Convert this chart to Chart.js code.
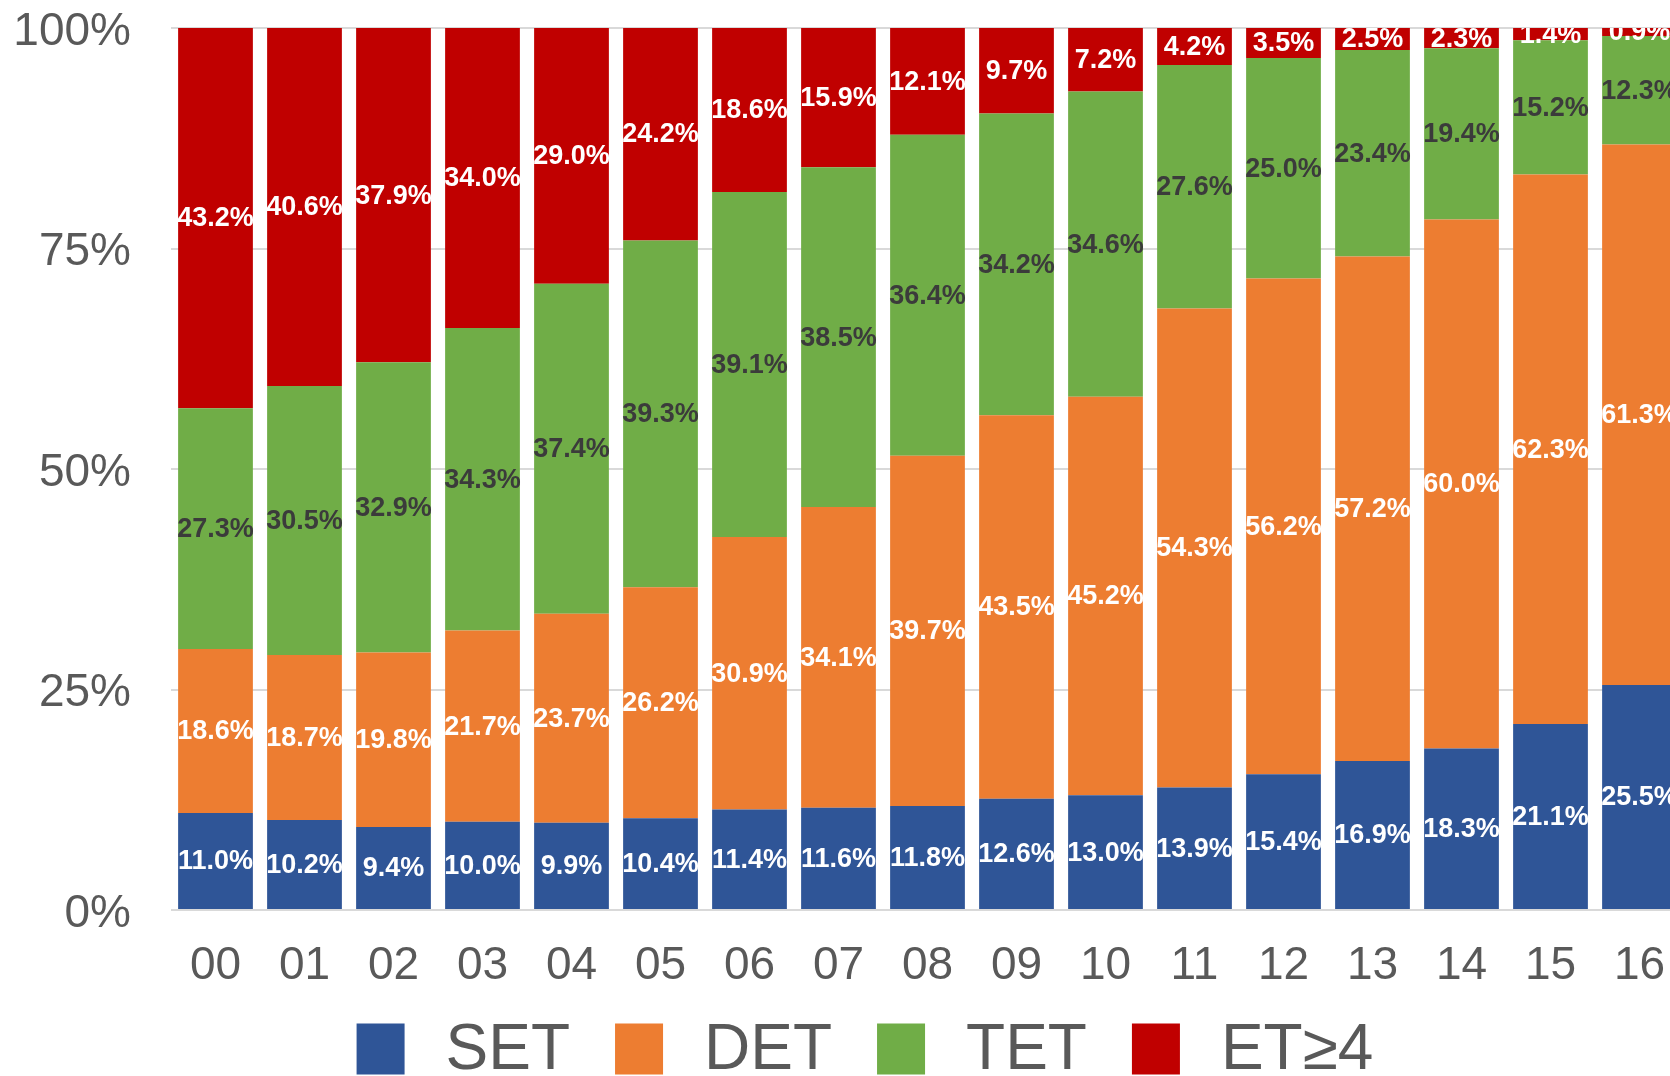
<!DOCTYPE html>
<html>
<head>
<meta charset="utf-8">
<script src="https://cdn.jsdelivr.net/npm/chart.js@4/dist/chart.umd.min.js"></script>
<style>
    html, body { margin: 0; padding: 0; overflow: hidden; background: #fff; }
    #canvas { display: block; }
</style>
</head>
<body>
<canvas id="canvas" width="1730" height="1076"></canvas>
<script>
    var categories = ['00', '01', '02', '03', '04', '05', '06', '07', '08', '09', '10', '11', '12', '13', '14', '15', '16'];
    var seriesNames = ['SET', 'DET', 'TET', 'ET\u22654'];
    var setValues = [11.0, 10.2, 9.4, 10.0, 9.9, 10.4, 11.4, 11.6, 11.8, 12.6, 13.0, 13.9, 15.4, 16.9, 18.3, 21.1, 25.5];
    var detValues = [18.6, 18.7, 19.8, 21.7, 23.7, 26.2, 30.9, 34.1, 39.7, 43.5, 45.2, 54.3, 56.2, 57.2, 60.0, 62.3, 61.3];
    var tetValues = [27.3, 30.5, 32.9, 34.3, 37.4, 39.3, 39.1, 38.5, 36.4, 34.2, 34.6, 27.6, 25.0, 23.4, 19.4, 15.2, 12.3];
    var et4Values = [43.2, 40.6, 37.9, 34.0, 29.0, 24.2, 18.6, 15.9, 12.1, 9.7, 7.2, 4.2, 3.5, 2.5, 2.3, 1.4, 0.9];
    var yTicks = [0, 25, 50, 75, 100];

    var colors = ['#2F5597', '#ED7D31', '#70AD47', '#C00000'];
    var labelColors = ['#ffffff', '#ffffff', '#3b3b3b', '#ffffff'];
    var fontFamily = '"Liberation Sans", Arial, Helvetica, sans-serif';

    // value labels in the middle of each segment, clipped to the plot area
    var segmentLabels = {
        id: 'segmentLabels',
        afterDatasetsDraw: function (chart) {
            var ctx = chart.ctx;
            var area = chart.chartArea;
            ctx.save();
            ctx.beginPath();
            ctx.rect(area.left, area.top, area.right - area.left, area.bottom - area.top);
            ctx.clip();
            ctx.font = 'bold 27px ' + fontFamily;
            ctx.textAlign = 'center';
            ctx.textBaseline = 'middle';
            chart.data.datasets.forEach(function (ds, i) {
                var meta = chart.getDatasetMeta(i);
                ctx.fillStyle = labelColors[i];
                meta.data.forEach(function (bar, j) {
                    var y = (bar.y + bar.base) / 2;
                    ctx.fillText(ds.data[j].toFixed(1) + '%', bar.x, y + 1);
                });
            });
            ctx.restore();
        }
    };

    // big legend at the bottom
    var bottomLegend = {
        id: 'bottomLegend',
        afterDraw: function (chart) {
            var ctx = chart.ctx;
            var boxW = 48, boxH = 51, gap = 41, spacing = 45;
            ctx.save();
            ctx.font = '64px ' + fontFamily;
            var widths = chart.data.datasets.map(function (ds) {
                return ctx.measureText(ds.label).width;
            });
            var total = 0;
            widths.forEach(function (w) { total += boxW + gap + w; });
            total += spacing * (widths.length - 1);
            var x = chart.width / 2 - total / 2;
            var yMid = 1049;
            ctx.textBaseline = 'middle';
            ctx.textAlign = 'left';
            chart.data.datasets.forEach(function (ds, i) {
                ctx.fillStyle = ds.backgroundColor;
                ctx.fillRect(x, yMid - boxH / 2, boxW, boxH);
                ctx.fillStyle = '#595959';
                ctx.fillText(ds.label, x + boxW + gap, yMid + 2);
                x += boxW + gap + widths[i] + spacing;
            });
            ctx.restore();
        }
    };

    var allValues = [setValues, detValues, tetValues, et4Values];
    var datasets = seriesNames.map(function (name, i) {
        return {
            label: name,
            data: allValues[i],
            backgroundColor: colors[i],
            borderWidth: 0,
            barPercentage: 0.84,
            categoryPercentage: 1.0
        };
    });

    var ctx = document.getElementById('canvas').getContext('2d');
    var myChart = new Chart(ctx, {
        type: 'bar',
        data: {
            labels: categories,
            datasets: datasets
        },
        options: {
            responsive: false,
            animation: false,
            devicePixelRatio: 1,
            layout: {
                padding: { left: 11, top: 28, right: 46, bottom: 86 }
            },
            plugins: {
                legend: { display: false },
                tooltip: { enabled: false }
            },
            scales: {
                x: {
                    stacked: true,
                    grid: { display: false },
                    border: { display: false },
                    ticks: {
                        color: '#595959',
                        padding: 21,
                        font: { family: fontFamily, size: 46 }
                    },
                    afterFit: function (scale) { scale.height = 80; }
                },
                y: {
                    stacked: true,
                    min: 0,
                    max: 100,
                    afterBuildTicks: function (scale) {
                        scale.ticks = yTicks.map(function (v) { return { value: v }; });
                    },
                    grid: {
                        color: '#d9d9d9',
                        lineWidth: 2,
                        drawTicks: false
                    },
                    border: { display: false },
                    ticks: {
                        color: '#595959',
                        padding: 40,
                        labelOffset: 4,
                        font: { family: fontFamily, size: 46 },
                        callback: function (v) { return v + '%'; }
                    },
                    afterFit: function (scale) { scale.width = 160; scale.paddingTop = 0; scale.paddingBottom = 0; }
                }
            }
        },
        plugins: [segmentLabels, bottomLegend]
    });
</script>
</body>
</html>
